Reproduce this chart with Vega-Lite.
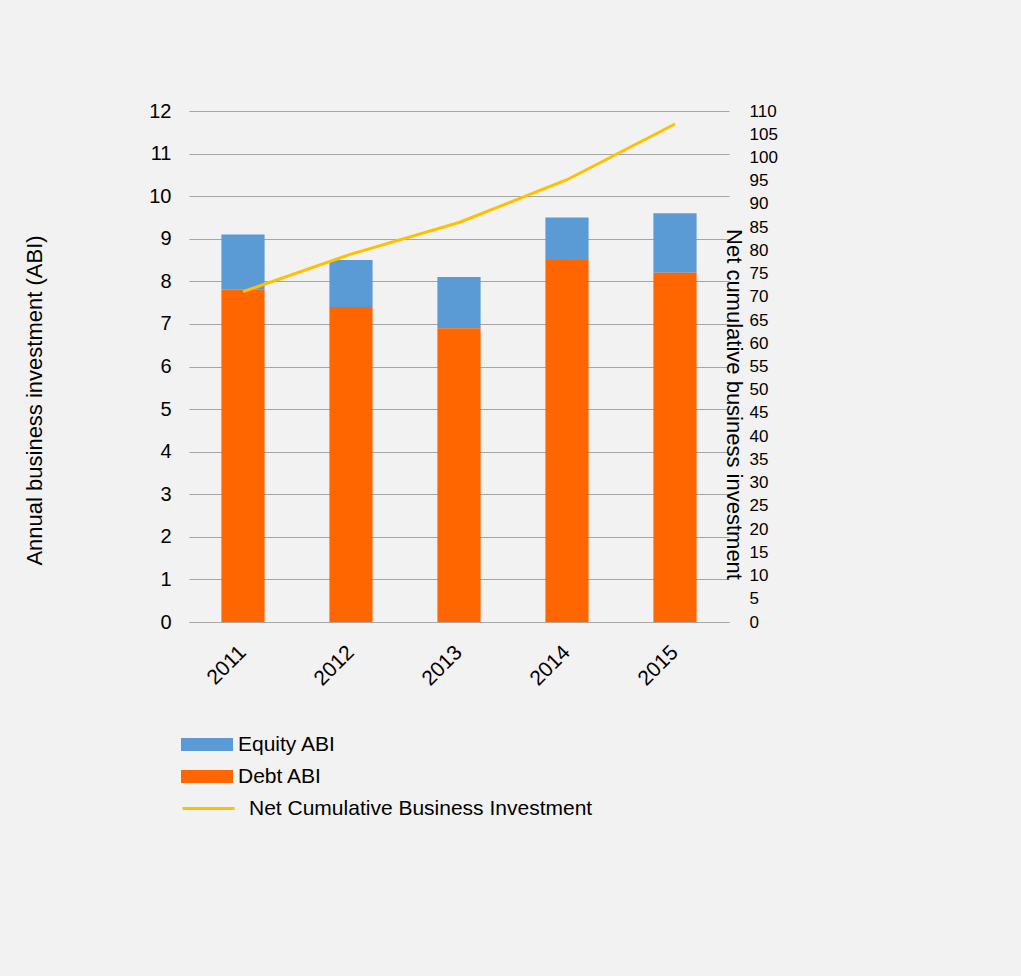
{
  "$schema": "https://vega.github.io/schema/vega-lite/v6.json",
  "background": "#f2f2f2",
  "autosize": {"type": "none"},
  "width": 540,
  "height": 511,
  "padding": {"left": 189, "top": 111, "right": 292, "bottom": 354},
  "data": {
    "values": [
      {"year": "2011", "Debt ABI": 7.8, "Equity ABI": 1.3, "cumulative": 71.1},
      {"year": "2012", "Debt ABI": 7.4, "Equity ABI": 1.1, "cumulative": 79.2},
      {"year": "2013", "Debt ABI": 6.9, "Equity ABI": 1.2, "cumulative": 86.0},
      {"year": "2014", "Debt ABI": 8.5, "Equity ABI": 1.0, "cumulative": 95.2},
      {"year": "2015", "Debt ABI": 8.2, "Equity ABI": 1.4, "cumulative": 107.2}
    ]
  },
  "layer": [
    {
      "transform": [{"fold": ["Equity ABI", "Debt ABI"], "as": ["series", "value"]}],
      "mark": {"type": "bar"},
      "encoding": {
        "x": {
          "field": "year",
          "type": "nominal",
          "scale": {"paddingInner": 0.6, "paddingOuter": 0.3},
          "axis": {
            "title": null,
            "labelAngle": -45,
            "labelAlign": "right",
            "labelBaseline": "middle",
            "labelPadding": 27,
            "labelFontSize": 21,
            "labelColor": "#000000",
            "domainColor": "#a6a6a6",
            "domainWidth": 1,
            "ticks": false,
            "grid": false
          }
        },
        "y": {
          "field": "value",
          "type": "quantitative",
          "stack": "zero",
          "scale": {"domain": [0, 12], "nice": false},
          "axis": {
            "values": [0, 1, 2, 3, 4, 5, 6, 7, 8, 9, 10, 11, 12],
            "grid": true,
            "gridColor": "#a6a6a6",
            "domain": false,
            "ticks": false,
            "labelPadding": 18,
            "labelFontSize": 20,
            "labelColor": "#000000",
            "title": "Annual business investment (ABI)",
            "titleFontSize": 22,
            "titleFontWeight": "normal",
            "titleColor": "#000000",
            "titleAngle": -90,
            "titleAlign": "center",
            "titleBaseline": "middle",
            "titleX": -155,
            "titleY": 289
          }
        },
        "color": {
          "field": "series",
          "type": "nominal",
          "scale": {"domain": ["Equity ABI", "Debt ABI"], "range": ["#5b9bd5", "#ff6600"]},
          "legend": {
            "orient": "none",
            "legendX": -8,
            "legendY": 623,
            "title": null,
            "symbolType": "M-1,-0.25H1V0.25H-1Z",
            "symbolSize": 2704,
            "symbolStrokeWidth": 0,
            "clipHeight": 21,
            "labelFontSize": 21,
            "labelColor": "#000000",
            "labelOffset": 5,
            "labelLimit": 0,
            "rowPadding": 10
          }
        },
        "order": {"field": "series", "sort": "ascending"}
      }
    },
    {
      "mark": {"type": "line", "strokeWidth": 3},
      "encoding": {
        "x": {"field": "year", "type": "nominal"},
        "y": {
          "field": "cumulative",
          "type": "quantitative",
          "scale": {"domain": [0, 110], "nice": false},
          "axis": {
            "orient": "right",
            "values": [0, 5, 10, 15, 20, 25, 30, 35, 40, 45, 50, 55, 60, 65, 70, 75, 80, 85, 90, 95, 100, 105, 110],
            "grid": false,
            "domain": false,
            "ticks": false,
            "labelPadding": 20,
            "labelFontSize": 17,
            "labelColor": "#000000",
            "title": "Net cumulative business investment",
            "titleFontSize": 22,
            "titleFontWeight": "normal",
            "titleColor": "#000000",
            "titleAngle": 90,
            "titleAlign": "center",
            "titleBaseline": "middle",
            "titleX": 4,
            "titleY": 293
          }
        },
        "stroke": {
          "datum": "Net Cumulative Business Investment",
          "type": "nominal",
          "scale": {"range": ["#ffc000"]},
          "legend": {
            "orient": "none",
            "legendX": -8,
            "legendY": 687,
            "title": null,
            "symbolType": "stroke",
            "symbolSize": 2704,
            "symbolStrokeWidth": 3,
            "clipHeight": 21,
            "labelFontSize": 21,
            "labelColor": "#000000",
            "labelOffset": 13,
            "labelLimit": 0
          }
        }
      }
    }
  ],
  "resolve": {"scale": {"y": "independent"}},
  "config": {
    "view": {"stroke": null},
    "font": "Liberation Sans",
    "axis": {"labelFont": "Liberation Sans", "titleFont": "Liberation Sans"},
    "legend": {"labelFont": "Liberation Sans"}
  }
}
